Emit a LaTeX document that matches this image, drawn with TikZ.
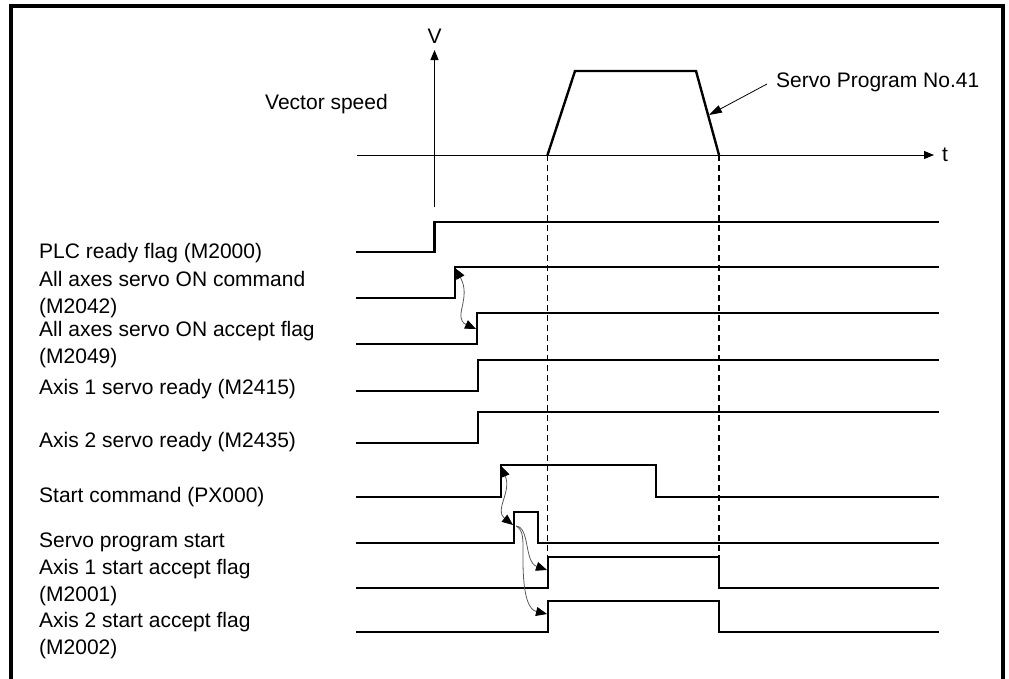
\documentclass[tikz,border=0pt]{standalone}
\usepackage{fontspec}
\setmainfont{Liberation Sans}
\usetikzlibrary{arrows.meta, positioning}

\begin{document}
\begin{tikzpicture}[x=1pt, y=-1pt, >=Triangle]
  \tikzstyle{siglabel} = [anchor=west, inner sep=0pt, align=left, font=\fontsize{21}{27}\selectfont]
  \tikzstyle{wave} = [line width=2.8pt, line join=miter, line cap=rect]
  \tikzstyle{axis} = [line width=1pt, -{Triangle[length=10pt, width=8pt]}]
  \tikzstyle{flow} = [line width=0.8pt, draw=black!65, {Triangle[length=11pt, width=9pt, color=black]}-{Triangle[length=11pt, width=9pt, color=black]}]
  \tikzstyle{flowend} = [line width=0.8pt, draw=black!65, -{Triangle[length=11pt, width=9pt, color=black]}]
  \tikzstyle{guide} = [line width=1.2pt, dash pattern=on 6pt off 4pt]

  \useasboundingbox (0,0) rectangle (1009,678);
  \draw[line width=4pt] (10.5,680) -- (10.5,6) -- (1003,6) -- (1003,680);

  % speed axes
  \draw[axis] (434.5,207) -- (434.5,50);
  \node[font=\fontsize{21}{25}\selectfont] (vlab) at (434.5,36) {V};
  \draw[axis] (357,155) -- (934,155);
  \node[font=\fontsize{21}{25}\selectfont, anchor=west, inner sep=0pt] (tlab) at (942,155) {t};
  \node[font=\fontsize{21}{25}\selectfont, anchor=east, inner sep=0pt] (vspeed) at (388,104) {Vector speed};

  % speed pattern
  \coordinate (ts) at (547.5,155);
  \coordinate (te) at (719,155);
  \coordinate (slope) at (709,115);
  \draw[line width=2.4pt, line join=miter] (ts) -- (575,71) -- (696,71) -- (te);
  \node[font=\fontsize{21}{25}\selectfont, anchor=west, inner sep=0pt] (spn) at (776,82) {Servo Program No.41};
  \draw[line width=0.8pt, -{Triangle[length=13pt, width=8pt]}] ([xshift=-9pt,yshift=-2pt]spn.west) -- (slope);

  \draw[guide] (ts) -- (547.5,557);
  \draw[guide] (te) -- (719,557);

  % signal names
  \node[siglabel] (plc) at (39,253) {PLC ready flag (M2000)};
  \node[siglabel] (son) at (39,295) {All axes servo ON command\\(M2042)};
  \node[siglabel] (sonacc) at (39,345) {All axes servo ON accept flag\\(M2049)};
  \node[siglabel] (rdy1) at (39,389) {Axis 1 servo ready (M2415)};
  \node[siglabel] (rdy2) at (39,442) {Axis 2 servo ready (M2435)};
  \node[siglabel] (start) at (39,497) {Start command (PX000)};
  \node[siglabel] (sps) at (39,542) {Servo program start};
  \node[siglabel] (acc1) at (39,583) {Axis 1 start accept flag\\(M2001)};
  \node[siglabel] (acc2) at (39,636) {Axis 2 start accept flag\\(M2002)};

  % signals
  \draw[wave] (357,252) -- (434.5,252) -- (434.5,222) -- (938,222);
  \draw[wave] (357,298) -- (455,298) -- (455,267) -- (938,267);
  \draw[wave] (357,344) -- (477,344) -- (477,313) -- (938,313);
  \draw[wave] (357,391) -- (478,391) -- (478,360) -- (938,360);
  \draw[wave] (357,443) -- (478,443) -- (478,412) -- (938,412);
  \draw[wave] (357,497) -- (501,497) -- (501,465) -- (656,465) -- (656,497) -- (938,497);
  \draw[wave] (357,543) -- (514,543) -- (514,512) -- (538,512) -- (538,543) -- (938,543);
  \draw[wave] (357,588) -- (548,588) -- (548,557) -- (719,557) -- (719,588) -- (938,588);
  \draw[wave] (357,632) -- (548,632) -- (548,601) -- (719,601) -- (719,632) -- (938,632);

  % handshakes
  \coordinate (sonup) at (455,268);
  \coordinate (sonaccup) at (476,329);
  \coordinate (startup) at (501,466);
  \coordinate (spsup) at (513,525);
  \coordinate (spsfrom) at (516,526);
  \coordinate (acc1up) at (547,570);
  \coordinate (acc2up) at (547,614);
  \draw[flow] (sonup) .. controls (472,298) and (452,318) .. (sonaccup);
  \draw[flow] (startup) .. controls (512,492) and (494,510) .. (spsup);
  \draw[flowend] (spsfrom) .. controls (530,527) and (524,562) .. (acc1up);
  \draw[flowend] (spsfrom) .. controls (524,530) and (523,540) .. (523,560) .. controls (523,600) and (530,610) .. (acc2up);
\end{tikzpicture}
\end{document}
